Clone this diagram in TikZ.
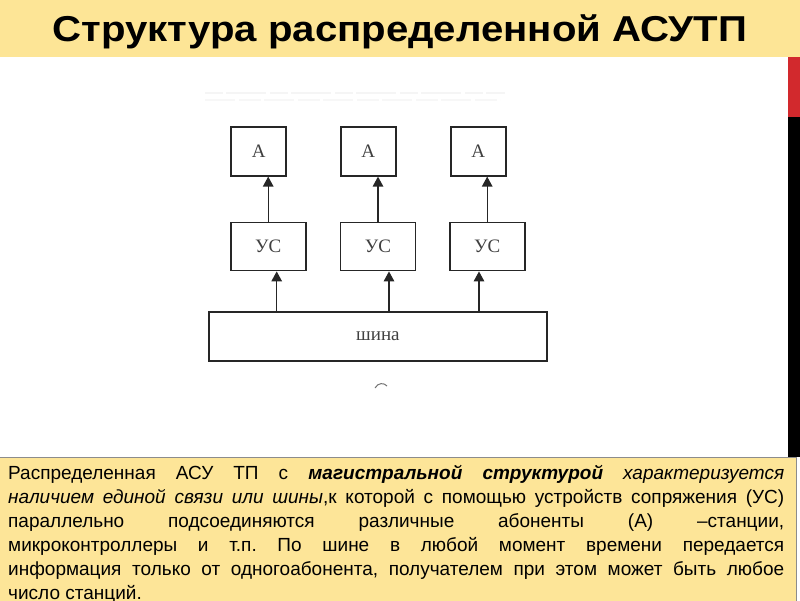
\documentclass[tikz,border=0pt]{standalone}
\usepackage{fontspec}
\setmainfont{Liberation Serif}
\newfontfamily\slidefont{Liberation Sans}
\usetikzlibrary{arrows.meta, positioning}
\definecolor{titleyellow}{HTML}{FDE596}
\definecolor{noteyellow}{HTML}{FDE598}
\definecolor{stripred}{HTML}{D2292D}
\frenchspacing

\begin{document}
\begin{tikzpicture}[x=1pt, y=-1pt, >={Triangle[length=10pt, width=10.5pt]},
    box/.style={draw=black!85, line width=1.8pt, fill=white, inner sep=0pt,
      text=black!75, font=\fontsize{19}{19}\selectfont},
    abox/.style={box, minimum width=55pt, minimum height=49pt},
    usbox/.style={box, minimum width=75pt, minimum height=48pt},
    link/.style={->, line width=1.4pt, draw=black!85}]
    \useasboundingbox (0,0) rectangle (800,600);

    % slide background
    \fill[titleyellow] (0,0) rectangle (800,56.5);
    \node (title) [anchor=base, font=\slidefont\bfseries\fontsize{36}{36}\selectfont] at (400,41)
      {\scalebox{1.115}[1]{Структура распределенной АСУТП}};
    \fill[stripred] (788,56.5) rectangle (800,117);
    \fill[black] (788,117) rectangle (800,457);

    % faint caption left over from the scan
    \draw[black!4, line width=2.5pt, dash pattern=on 18pt off 3pt on 40pt off 4pt] (205,93) -- (505,93);
    \draw[black!3, line width=2.5pt, dash pattern=on 30pt off 4pt on 22pt off 3pt] (205,100) -- (500,100);

    % subscribers
    \node (a1) [abox] at (258.7,151.2) {А};
    \node (a2) [abox] at (368.3,151.2) {А};
    \node (a3) [abox] at (478.2,151.2) {А};

    % interface units
    \node (u1) [usbox] at (268.2,246.5) {УС};
    \node (u2) [usbox] at (378.0,246.5) {УС};
    \node (u3) [usbox] at (487.2,246.5) {УС};

    % bus
    \node (bus) [box, minimum width=337.7pt, minimum height=48.4pt] at (377.9,336.5) {шина};

    \draw[link] (u1.north) -- (u1.north |- a1.south);
    \draw[link] (u2.north) -- (u2.north |- a2.south);
    \draw[link] (u3.north) -- (u3.north |- a3.south);

    \coordinate (t1) at (276.7,312.3);
    \coordinate (t2) at (389.0,312.3);
    \coordinate (t3) at (479.0,312.3);
    \draw[link] (t1) -- (t1 |- u1.south);
    \draw[link] (t2) -- (t2 |- u2.south);
    \draw[link] (t3) -- (t3 |- u3.south);

    % cut-off sub-caption
    \draw[black!55, line width=1pt] (375,388) .. controls (378,382.5) and (384,382.5) .. (387,386);

    % note
    \draw[fill=noteyellow, draw=black!45, line width=0.6pt] (-1,457) rectangle (796.7,605);
    \node (note) [anchor=north west, inner sep=0pt, text width=776pt, align=justify,
      font=\slidefont\fontsize{19}{24}\selectfont] at (8,462.5)
      {\strut Распределенная АСУ ТП с \textbf{\textit{магистральной структурой}} \textit{характеризуется}\linebreak
       \textit{наличием единой связи или шины},к которой с помощью устройств сопряжения (УС)\linebreak
       параллельно подсоединяются различные абоненты (А) –станции,\linebreak
       микроконтроллеры и т.п. По шине в любой момент времени передается\linebreak
       информация только от одногоабонента, получателем при этом может быть любое\linebreak
       число станций.};
\end{tikzpicture}
\end{document}
